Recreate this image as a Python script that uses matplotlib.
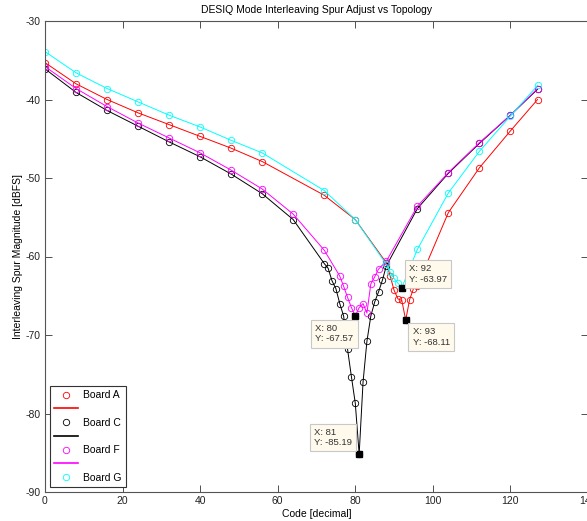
import matplotlib
matplotlib.use('Agg')
import matplotlib.pyplot as plt
from matplotlib.lines import Line2D

# Board A (red)
codeA = [0, 8, 16, 24, 32, 40, 48, 56, 72, 80, 88, 89, 90, 91, 92, 93, 94, 95, 96, 104, 112, 120, 127]
spurA = [-35.3, -38.0, -40.0, -41.7, -43.2, -44.7, -46.2, -47.9, -52.2, -55.3, -60.8, -62.5, -64.3,
         -65.4, -65.6, -68.11, -65.5, -64.1, -63.7, -54.4, -48.7, -44.0, -40.0]

# Board C (black)
codeC = [0, 8, 16, 24, 32, 40, 48, 56, 64, 72, 73, 74, 75, 76, 77, 78, 79, 80, 81, 82, 83, 84, 85,
         86, 87, 88, 96, 104, 112, 120, 127]
spurC = [-36.1, -39.1, -41.4, -43.4, -45.4, -47.3, -49.5, -52.0, -55.3, -60.9, -61.5, -63.1, -64.1,
         -66.0, -67.6, -71.8, -75.3, -78.7, -85.19, -76.0, -70.8, -67.6, -65.8, -64.5, -63.0, -61.2,
         -53.9, -49.4, -45.6, -42.0, -38.7]

# Board F (magenta)
codeF = [0, 8, 16, 24, 32, 40, 48, 56, 64, 72, 76, 77, 78, 79, 80, 81, 82, 83, 84, 85, 86, 88,
         96, 104, 112, 120, 127]
spurF = [-35.8, -38.6, -40.9, -43.0, -44.9, -46.8, -49.0, -51.4, -54.6, -59.2, -62.5, -63.8, -65.2,
         -66.5, -67.57, -66.5, -66.0, -67.2, -63.5, -62.6, -61.6, -60.6, -53.6, -49.3, -45.5, -42.0, -38.6]

# Board G (cyan)
codeG = [0, 8, 16, 24, 32, 40, 48, 56, 72, 80, 88, 89, 90, 91, 92, 96, 104, 112, 120, 127]
spurG = [-33.9, -36.6, -38.6, -40.3, -42.0, -43.5, -45.2, -46.8, -51.6, -55.3, -61.0, -62.0, -62.8,
         -63.4, -63.97, -59.1, -51.9, -46.6, -42.1, -38.2]

boards = ['Board A', 'Board C', 'Board F', 'Board G']
colors = ['#ff0000', '#000000', '#ff00ff', '#00ffff']

# data tips: (x, y, ha, va, offset in pixels)
tipX = [80, 81, 92, 93]
tipY = [-67.57, -85.19, -63.97, -68.11]
tipPos = [('right', 'top', (-2, -8)), ('right', 'bottom', (-7, 7)),
          ('left', 'bottom', (7, 4)), ('left', 'top', (7, -7))]

plt.rcParams['font.family'] = ['Liberation Sans', 'DejaVu Sans']
plt.rcParams['font.size'] = 7.5
plt.rcParams['axes.unicode_minus'] = False

fig = plt.figure(figsize=(5.87, 5.21), dpi=100)
ax = fig.add_axes([45 / 587, 29 / 521, 543 / 587, 471 / 521])

series = [(codeA, spurA), (codeC, spurC), (codeF, spurF), (codeG, spurG)]
markerHandles = []
lineHandles = []
for (x, y), c in zip(series, colors):
    ax.plot(x, y, '-', color=c, lw=0.7)
    m, = ax.plot(x, y, 'o', mfc='none', mec=c, ms=4.6, mew=0.6, ls='none')
    markerHandles.append(m)
    lineHandles.append(Line2D([], [], color=c, lw=1.2))

for x, y, (ha, va, off) in zip(tipX, tipY, tipPos):
    ax.plot(x, y, 's', color='k', ms=4.5)
    ax.annotate('X: %g\nY: %.2f' % (x, y), xy=(x, y), xytext=off, textcoords='offset pixels',
                ha=ha, va=va, fontsize=6.8, color='#333333', multialignment='left',
                bbox=dict(boxstyle='square,pad=0.45', fc='#fffaec', ec='#c8c8c8', lw=0.8))

ax.set_xlim(0, 140)
ax.set_ylim(-90, -30)
ax.set_xticks(range(0, 141, 20))
ax.set_yticks(range(-90, -29, 10))
ax.tick_params(direction='in', top=True, right=True, length=5, width=0.6, colors='#333333',
               labelcolor='#222222', pad=3)
for s in ax.spines.values():
    s.set_color('#555555')
    s.set_linewidth(0.8)

ax.set_title('DESIQ Mode Interleaving Spur Adjust vs Topology', fontsize=7.5, pad=6)
ax.set_xlabel('Code [decimal]', labelpad=2)
ax.set_ylabel('Interleaving Spur Magnitude [dBFS]', labelpad=2)

handles = [markerHandles[0], lineHandles[0], markerHandles[1], lineHandles[1],
           markerHandles[2], lineHandles[2], markerHandles[3]]
labels = [boards[0], '', boards[1], '', boards[2], '', boards[3]]
leg = ax.legend(handles, labels, loc='lower left', bbox_to_anchor=(5 / 543, 5 / 471), borderaxespad=0,
                fontsize=7.5, fancybox=False, edgecolor='#333333', framealpha=1, handlelength=2.3,
                labelspacing=0.36, borderpad=0.4, handletextpad=0.5)
leg.get_frame().set_linewidth(0.8)

fig.savefig('out.png', dpi=100)
